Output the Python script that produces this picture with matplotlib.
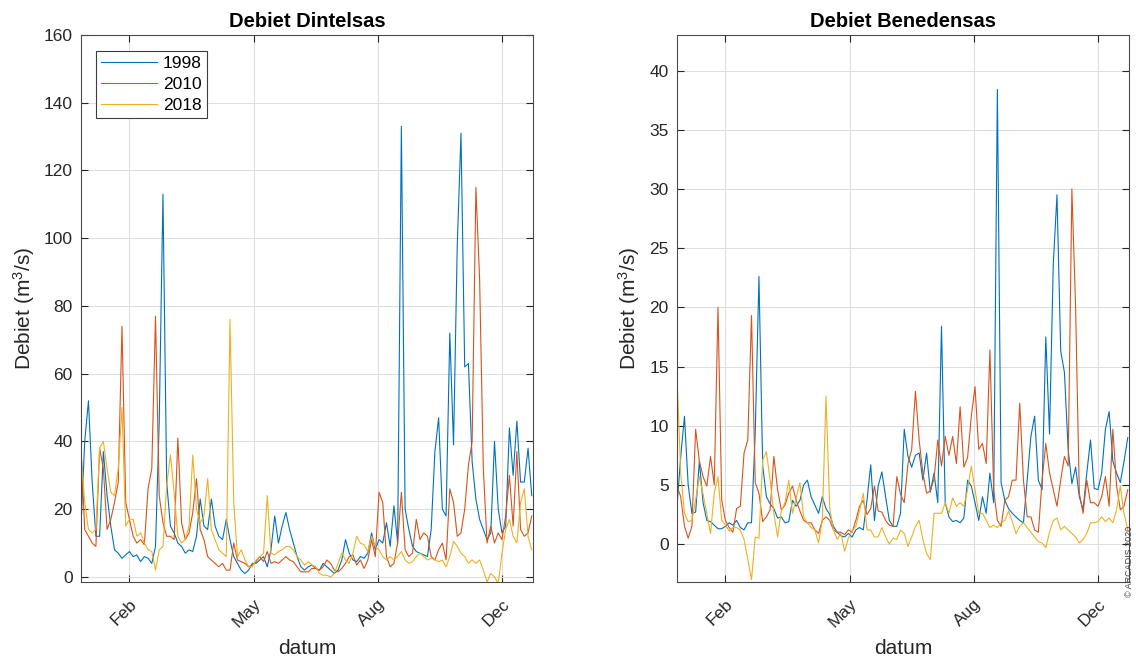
import numpy as np
import matplotlib
matplotlib.use('Agg')
import matplotlib.pyplot as plt

plt.rcParams['font.family'] = ['Liberation Sans', 'DejaVu Sans']
plt.rcParams['mathtext.fontset'] = 'custom'
plt.rcParams['mathtext.rm'] = 'Liberation Sans'
plt.rcParams['mathtext.it'] = 'Liberation Sans'

# dag van het jaar, elke 3 dagen
dagen = np.arange(1, 366, 3)

# Debiet Dintelsas (m3/s)
dintel_1998 = [15, 40, 52, 28, 12, 12, 37, 24, 15, 8, 7, 5.5, 6.5, 7.5, 6, 6.5, 4.5, 6, 5.5, 4,
               9, 46, 113, 28, 15, 13, 10, 9, 7, 8, 7.5, 12, 23, 15, 14, 23, 15, 12, 11, 17, 11,
               6, 4, 2, 1, 2, 4, 4, 5, 6, 3, 8, 18, 10, 15, 19, 14, 10, 6, 3, 2,
               3, 3.5, 2.5, 2, 4, 3, 2, 1, 2, 5, 11, 7, 5, 4.5, 6, 5.5, 7, 13, 8, 11, 10,
               16, 9, 21, 10, 133, 20, 14, 9, 7.5, 7, 6.5, 6, 14, 37, 47, 20, 18, 72, 39, 98,
               131, 62, 63, 34, 23, 17, 14, 11, 13, 40, 20, 13, 15, 44, 30, 46, 28, 28, 38, 24]
dintel_2010 = [38, 14, 12, 10, 9, 38, 32, 14, 17, 22, 28, 74, 22, 17, 12, 10, 11, 9.5, 26, 32,
               77, 24, 16, 12, 12, 11, 41, 16, 11, 13, 19, 29, 14, 11, 6, 5, 4, 3, 4, 2, 2,
               10, 5, 4.5, 4, 3, 3.5, 4.5, 6, 4.5, 7.5, 4, 4.5, 4, 5, 6, 5, 4.5, 3, 1.5, 1.5,
               1.5, 2.5, 2.5, 2, 3, 5, 4, 2, 1.5, 2.5, 4, 6, 6.5, 3.5, 5, 2.5, 5, 11, 6, 25, 22,
               6, 3, 4, 10, 25, 8, 6, 7, 17, 11, 13, 12, 6, 5, 8, 10, 5, 26, 22, 12,
               13, 20, 33, 40, 115, 88, 32, 10, 15, 10, 13, 11, 18, 30, 15, 37, 14, 12, 13, 18]
dintel_2018 = [36, 22, 14, 13, 14, 38, 40, 32, 25, 24, 32, 50, 15, 17, 17, 12, 13, 10, 8, 7.5,
               2, 8, 9, 27, 36, 25, 12, 10, 11, 15, 36, 20, 16, 18, 29, 14, 11, 8, 7, 6, 76,
               22, 6, 8, 5, 3, 3, 5, 6, 7, 24, 7, 6.5, 7.5, 8, 9, 9, 8, 6, 5, 3.5,
               4.5, 3.5, 3, 1, 0.5, 0.5, 0, 1, 4, 7, 5, 4, 7, 12, 10, 9.5, 7.5, 12, 9, 8, 6,
               5, 6, 5, 6, 7.5, 5, 4, 4.5, 6, 7, 6, 5, 5.5, 5, 4.5, 5, 3, 6, 10.5, 9,
               7, 6, 4, 5, 4, 5, 2, -1.5, 1, 0, -2, 7, 14, 17, 12, 10, 22, 26, 12, 8]

# Debiet Benedensas (m3/s)
bened_1998 = [3.2, 7.4, 10.8, 5, 2.6, 2.7, 7, 3.5, 2, 1.9, 1.6, 1.3, 1.3, 1.5, 1.8, 1.6, 2, 1.4, 1.2, 1.8,
              1.8, 9.4, 22.6, 6.6, 4, 3.4, 3, 2.2, 2.3, 1.8, 1.9, 3.7, 3.2, 3.7, 5, 5.4, 4, 3.3, 2.6, 4, 3,
              2.5, 1.5, 1, 0.7, 0.6, 0.9, 0.6, 1.2, 1.4, 1.2, 3.7, 6.7, 2, 4.9, 6.1, 4, 2, 1.5, 1.5, 2.6,
              9.7, 7.4, 6.5, 7.5, 7.7, 5.4, 7.7, 4.4, 6, 3.5, 18.4, 3.5, 2.3, 1.9, 2, 1.8, 2.2, 5.4, 4.9, 3.5, 2,
              4, 2.6, 6, 3.5, 38.4, 5.2, 3.7, 3, 2.6, 2.3, 2, 1.8, 5.4, 9.1, 10.8, 5.4, 4.6, 17.5, 9.3, 23.6,
              29.5, 16.3, 14.5, 8, 5.1, 6.5, 4, 2.9, 6, 8.8, 4.7, 4.6, 6, 9.7, 11.2, 7, 6, 5.2, 7, 9]
bened_2010 = [4.9, 4, 1.5, 0.5, 1.5, 9.7, 7, 5.7, 4.9, 7.4, 5, 20, 3.7, 2, 1.4, 1, 3, 3.2, 7.7, 8.8,
              19.3, 5.2, 4.3, 1.9, 2.3, 2.9, 7.4, 4.6, 2.9, 3.3, 4.3, 4.9, 3.7, 2.8, 2, 1.8, 1.8, 1.2, 0.9, 2, 2.3,
              2, 1.2, 1, 1, 0.8, 1.2, 1, 2, 3.2, 3.7, 2.5, 3, 4.9, 2.8, 2.7, 2, 1.6, 1.5, 5.7, 4.2,
              3.5, 6.8, 8, 12.9, 8.8, 6, 4.3, 4.5, 5.5, 8.8, 6.6, 9.1, 7.5, 9.1, 6.8, 11.6, 6.5, 7.3, 10.8, 13.3, 8,
              8.5, 6.8, 16.4, 4.6, 2, 1.5, 3.7, 4, 5.4, 5.4, 11.9, 5.4, 2.3, 2.3, 1.2, 1, 5.4, 8.5, 6, 4.6,
              3.2, 5.4, 7.4, 6.6, 30, 20, 4.3, 2.6, 5.4, 3.5, 3.5, 3.2, 4, 5.7, 3.2, 9.7, 4.9, 2.9, 3.2, 4.6]
bened_2018 = [14.2, 6, 2.6, 1.9, 2, 3.7, 5.7, 4.2, 2.6, 0.9, 4.3, 5.7, 2, 1.6, 1.1, 1.4, 1.4, 1.2, 0.4, -1.3,
              -3, 0.6, 0.5, 7.1, 7.8, 5.4, 2.6, 0.6, 2.8, 3.5, 5.4, 2.6, 3.9, 5.2, 2.3, 1.8, 1.4, 1.2, 0.1, 2, 12.5,
              3, 1.2, 0.4, 0.9, -0.6, 0.5, 1.1, 1.5, 2.8, 4.3, 1.2, 1.2, 0.6, 0.6, 1.4, 0.6, 0, 0.5, 0.4, 1.2,
              0.9, -0.2, 0.6, 1.5, 2, 0.4, -0.8, -1.3, 2.6, 2.6, 2.6, 3.5, 2.6, 3.9, 3.2, 3.5, 3.2, 4.6, 6.6, 4.6, 2.6,
              2.6, 2, 1.4, 1.6, 1.4, 1.8, 2, 2.8, 1.9, 0.9, 1.5, 1.8, 1.4, 1, 0.6, 0.2, 0.1, -0.3, 1, 2,
              2.2, 1.2, 1.5, 1.2, 0.9, 0.6, 0.1, 0.4, 0.9, 1.8, 1.8, 1.9, 2.3, 1.9, 2.2, 1.8, 2.9, 4.9, 2.6, 1.2]

jaren = ['1998', '2010', '2018']
kleuren = ['#0072BD', '#D95319', '#EDB120']
maand_dagen = [40, 140, 240, 340]
maand_labels = ['Feb', 'May', 'Aug', 'Dec']

W, H = 1136, 658
fig = plt.figure(figsize=(W / 100, H / 100), dpi=100)
ax1 = fig.add_axes([81 / W, 1 - 582 / H, 452 / W, 547 / H])
ax2 = fig.add_axes([677 / W, 1 - 582 / H, 452 / W, 547 / H])


def opmaak(ax, titel, ylim, yticks):
    ax.set_xlim(1, 365)
    ax.set_ylim(*ylim)
    ax.set_yticks(yticks)
    ax.set_xticks(maand_dagen)
    ax.set_xticklabels(maand_labels, rotation=45, ha='right', va='top',
                       rotation_mode='anchor')
    ax.tick_params(direction='in', length=5, width=0.8, top=True, right=True,
                   labelsize=12.5, colors='#262626')
    ax.tick_params(axis='x', pad=10.5)
    ax.tick_params(axis='y', pad=6)
    ax.grid(True, color='#dedede', lw=0.8)
    ax.set_axisbelow(True)
    for s in ax.spines.values():
        s.set_color('#4a4a4a')
        s.set_linewidth(0.8)
    ax.set_title(titel, fontsize=14.5, fontweight='bold', pad=6, color='black')
    ax.set_xlabel('datum', fontsize=15, color='#262626', labelpad=6)
    ax.set_ylabel('Debiet (m$^3$/s)', fontsize=15, color='#262626', labelpad=5)


for serie, kleur, jaar in zip([dintel_1998, dintel_2010, dintel_2018], kleuren, jaren):
    ax1.plot(dagen, serie, color=kleur, lw=0.8, label=jaar)
for serie, kleur, jaar in zip([bened_1998, bened_2010, bened_2018], kleuren, jaren):
    ax2.plot(dagen, serie, color=kleur, lw=0.8, label=jaar)

opmaak(ax1, 'Debiet Dintelsas', (-1.5, 160), np.arange(0, 161, 20))
opmaak(ax2, 'Debiet Benedensas', (-3.2, 43), np.arange(0, 41, 5))

leg = ax1.legend(loc='upper left', bbox_to_anchor=(15 / 452, 1 - 16 / 547),
                 borderaxespad=0, fontsize=12.5, fancybox=False, framealpha=1,
                 edgecolor='#3c3c3c', handlelength=3.2, handletextpad=0.35,
                 labelspacing=0.32, borderpad=0.3)
leg.get_frame().set_linewidth(0.8)

fig.text(1125 / W, 1 - 597 / H, '\u00a9 ARCADIS 2020', rotation=90, fontsize=6.5,
         color='#404040', ha='left', va='bottom')

fig.savefig('out.png', dpi=100)
